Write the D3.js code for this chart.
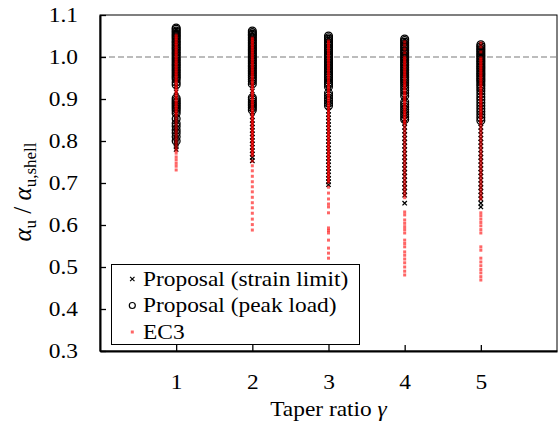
<!DOCTYPE html>
<html>
<head>
<meta charset="utf-8">
<script src="https://cdn.jsdelivr.net/npm/d3@7/dist/d3.min.js"></script>
<style>
    body { margin: 0; background: #fff; }
    svg text, svg tspan { font-family: 'Liberation Serif', 'Times New Roman', Times !important; }
</style>
</head>
<body>
<div id="chart"></div>
<script>
var taperRatios = [1, 2, 3, 4, 5];
var xTicks = [1, 2, 3, 4, 5];
var yTicks = [0.3, 0.4, 0.5, 0.6, 0.7, 0.8, 0.9, 1.0, 1.1];
var legendLabels = ["Proposal (strain limit)", "Proposal (peak load)", "EC3"];

// one list per taper ratio
var strainLimit = [
    [1.064, 1.051, 1.038, 1.022, 1.008, 0.993, 0.978, 0.962, 0.948, 0.931, 0.917, 0.903, 0.889, 0.874, 0.865, 0.858, 0.851, 0.845, 0.839, 0.833, 0.827, 0.821, 0.815, 0.809, 0.803, 0.797, 0.792, 0.786, 0.780],
    [1.058, 1.045, 1.031, 1.017, 1.003, 0.989, 0.975, 0.961, 0.947, 0.933, 0.919, 0.905, 0.892, 0.880, 0.868, 0.858, 0.849, 0.841, 0.833, 0.825, 0.817, 0.809, 0.801, 0.793, 0.785, 0.777, 0.769, 0.761, 0.753],
    [1.046, 1.032, 1.018, 1.004, 0.990, 0.976, 0.962, 0.948, 0.934, 0.920, 0.906, 0.892, 0.880, 0.871, 0.863, 0.855, 0.847, 0.839, 0.831, 0.823, 0.815, 0.807, 0.799, 0.791, 0.783, 0.775, 0.767, 0.759, 0.751, 0.743, 0.735, 0.727, 0.719, 0.711, 0.703, 0.696],
    [1.040, 1.026, 1.012, 0.998, 0.984, 0.970, 0.956, 0.942, 0.928, 0.914, 0.900, 0.886, 0.872, 0.860, 0.851, 0.842, 0.833, 0.824, 0.815, 0.806, 0.797, 0.788, 0.779, 0.770, 0.761, 0.752, 0.743, 0.734, 0.725, 0.716, 0.707, 0.698, 0.689, 0.680, 0.671, 0.652],
    [1.028, 1.014, 1.000, 0.986, 0.972, 0.958, 0.944, 0.930, 0.916, 0.902, 0.888, 0.874, 0.861, 0.851, 0.842, 0.833, 0.824, 0.815, 0.806, 0.797, 0.788, 0.779, 0.770, 0.761, 0.752, 0.743, 0.734, 0.725, 0.716, 0.707, 0.698, 0.689, 0.680, 0.671, 0.662, 0.652, 0.643]
];

var peakLoad = [
    [1.069, 1.066, 1.062, 1.059, 1.055, 1.052, 1.048, 1.045, 1.041, 1.037, 1.034, 1.030, 1.026, 1.022, 1.019, 1.015, 1.011, 1.007, 1.003, 0.999, 0.995, 0.991, 0.987, 0.983, 0.979, 0.975, 0.971, 0.967, 0.963, 0.959, 0.955, 0.951, 0.947, 0.940, 0.934, 0.902, 0.897, 0.893, 0.889, 0.885, 0.881, 0.877, 0.872, 0.866, 0.853, 0.842, 0.835, 0.826, 0.819, 0.810, 0.800],
    [1.062, 1.058, 1.054, 1.051, 1.047, 1.043, 1.039, 1.035, 1.031, 1.027, 1.023, 1.019, 1.016, 1.012, 1.008, 1.004, 1.000, 0.996, 0.992, 0.988, 0.984, 0.980, 0.976, 0.972, 0.968, 0.964, 0.960, 0.956, 0.952, 0.947, 0.942, 0.936, 0.903, 0.898, 0.893, 0.888, 0.884, 0.879, 0.874],
    [1.050, 1.046, 1.042, 1.038, 1.034, 1.030, 1.026, 1.022, 1.018, 1.014, 1.010, 1.006, 1.002, 0.998, 0.994, 0.990, 0.986, 0.982, 0.978, 0.974, 0.970, 0.966, 0.962, 0.958, 0.954, 0.950, 0.945, 0.940, 0.935, 0.929, 0.914, 0.908, 0.902, 0.896, 0.890, 0.884],
    [1.043, 1.039, 1.035, 1.031, 1.027, 1.023, 1.019, 1.015, 1.011, 1.007, 1.003, 0.999, 0.995, 0.991, 0.987, 0.983, 0.979, 0.975, 0.971, 0.967, 0.963, 0.959, 0.955, 0.951, 0.947, 0.943, 0.938, 0.933, 0.927, 0.921, 0.914, 0.907, 0.893, 0.887, 0.881, 0.875, 0.869, 0.863, 0.857, 0.851],
    [1.029, 1.025, 1.021, 1.017, 1.013, 1.009, 1.005, 1.001, 0.997, 0.993, 0.989, 0.985, 0.981, 0.977, 0.973, 0.969, 0.965, 0.961, 0.957, 0.953, 0.949, 0.945, 0.941, 0.936, 0.931, 0.925, 0.919, 0.912, 0.905, 0.898, 0.891, 0.884, 0.877, 0.870, 0.863, 0.856, 0.849]
];

var ec3 = [
    [1.052, 1.048, 1.044, 1.040, 1.036, 1.032, 1.028, 1.024, 1.020, 1.016, 1.012, 1.008, 1.004, 1.000, 0.996, 0.992, 0.988, 0.984, 0.980, 0.976, 0.972, 0.968, 0.964, 0.960, 0.956, 0.952, 0.948, 0.944, 0.940, 0.936, 0.932, 0.928, 0.924, 0.920, 0.916, 0.912, 0.908, 0.904, 0.900, 0.896, 0.892, 0.888, 0.884, 0.880, 0.876, 0.872, 0.868, 0.864, 0.860,
     0.853, 0.846, 0.839, 0.832, 0.825, 0.818, 0.811, 0.804, 0.797, 0.790, 0.783, 0.777, 0.771, 0.762, 0.755, 0.747, 0.740, 0.731],
    [1.045, 1.041, 1.037, 1.033, 1.029, 1.025, 1.021, 1.017, 1.013, 1.009, 1.005, 1.001, 0.997, 0.993, 0.989, 0.985, 0.981, 0.977, 0.973, 0.969, 0.965, 0.961, 0.957, 0.953, 0.949, 0.945, 0.941, 0.937, 0.933, 0.929, 0.925, 0.921, 0.917, 0.913, 0.909, 0.905, 0.901, 0.897, 0.893, 0.889, 0.885, 0.881, 0.877, 0.873, 0.869, 0.865, 0.861, 0.857, 0.853, 0.849, 0.845, 0.841, 0.837, 0.833, 0.829, 0.825, 0.821, 0.817, 0.813, 0.809, 0.805, 0.801, 0.797, 0.793, 0.789, 0.785, 0.781, 0.777, 0.773, 0.769, 0.765,
     0.752, 0.741, 0.729, 0.716, 0.703, 0.691, 0.679, 0.666, 0.653, 0.641, 0.628, 0.614, 0.601, 0.588],
    [1.038, 1.034, 1.030, 1.026, 1.022, 1.018, 1.014, 1.010, 1.006, 1.002, 0.998, 0.994, 0.990, 0.986, 0.982, 0.978, 0.974, 0.970, 0.966, 0.962, 0.958, 0.954, 0.950, 0.946, 0.942, 0.938, 0.934, 0.930, 0.926, 0.922, 0.918, 0.914, 0.910, 0.906, 0.902, 0.898, 0.894, 0.890, 0.886, 0.882, 0.878, 0.874, 0.870, 0.866, 0.862, 0.858, 0.854, 0.850, 0.846, 0.842, 0.838, 0.834, 0.830, 0.826, 0.822, 0.818, 0.814, 0.810, 0.806, 0.802, 0.798, 0.794, 0.790, 0.786, 0.782, 0.778, 0.774, 0.770, 0.766, 0.762, 0.758, 0.754, 0.750, 0.746, 0.742, 0.738, 0.734, 0.730, 0.726, 0.722, 0.718, 0.714, 0.710, 0.706, 0.702,
     0.690, 0.676, 0.662, 0.650, 0.643, 0.629, 0.593, 0.587, 0.581, 0.564, 0.545, 0.533, 0.521],
    [1.036, 1.028, 1.019, 1.010, 1.000, 0.996, 0.992, 0.988, 0.984, 0.980, 0.976, 0.972, 0.968, 0.964, 0.960, 0.956, 0.952, 0.948, 0.944, 0.940, 0.936, 0.932, 0.928, 0.924, 0.920, 0.916, 0.912, 0.908, 0.904, 0.900, 0.896, 0.892, 0.888, 0.884, 0.880, 0.876, 0.872, 0.868, 0.864, 0.860, 0.856, 0.852, 0.848, 0.844, 0.840,
     0.833, 0.826, 0.819, 0.812, 0.805, 0.798, 0.791, 0.784, 0.777, 0.770, 0.763, 0.756, 0.749, 0.742, 0.735, 0.728, 0.721, 0.714, 0.707, 0.700, 0.693, 0.686, 0.679, 0.672, 0.665,
     0.631, 0.624, 0.612, 0.604, 0.596, 0.589, 0.581, 0.564, 0.556, 0.548, 0.536, 0.528, 0.519, 0.510, 0.500, 0.490, 0.481],
    [1.033, 1.024, 1.012, 0.998, 0.994, 0.990, 0.986, 0.982, 0.978, 0.974, 0.970, 0.966, 0.962, 0.958, 0.954, 0.950, 0.946, 0.942, 0.938, 0.934, 0.930, 0.926, 0.922, 0.918, 0.914, 0.910, 0.906, 0.902, 0.898, 0.894, 0.890, 0.886, 0.882, 0.878, 0.874, 0.870, 0.866, 0.862, 0.858, 0.854, 0.850, 0.846, 0.842,
     0.835, 0.828, 0.821, 0.814, 0.807, 0.800, 0.793, 0.786, 0.779, 0.772, 0.765, 0.758, 0.751, 0.744, 0.737, 0.730, 0.723, 0.716, 0.709, 0.702, 0.695, 0.688, 0.681, 0.674, 0.667, 0.662,
     0.629, 0.622, 0.614, 0.606, 0.598, 0.589, 0.581, 0.548, 0.540, 0.521, 0.512, 0.503, 0.494, 0.486, 0.477, 0.469]
];

var margin = {top: 15, right: 3, bottom: 76, left: 100},
    width = 560 - margin.left - margin.right,
    height = 427 - margin.top - margin.bottom;

// the original figure is a little wider than its fonts
var stretch = 1.17;

function serif(sel, size) {
    return sel.attr("font-family", "Liberation Serif")
        .style("font-family", "'Liberation Serif', 'Times New Roman', Times")
        .style("font-size", size + "px")
        .attr("fill", "#000");
}

function toPoints(series) {
    var pts = [];
    series.forEach(function (list, i) {
        list.forEach(function (v) {
            pts.push({gamma: taperRatios[i], value: v});
        });
    });
    return pts;
}

function drawChart() {
    var svg = d3.select("#chart").append("svg")
        .attr("width", 560)
        .attr("height", 427)
        .style("font-family", "'Liberation Serif', 'Times New Roman', Times");

    var g = svg.append("g")
        .attr("transform", "translate(" + margin.left + "," + margin.top + ")");

    var x = d3.scaleLinear().domain([0, 6]).range([0, width]);
    var y = d3.scaleLinear().domain([0.3, 1.1]).range([height, 0]);

    // reference line at 1.0
    g.append("line")
        .attr("x1", 0).attr("x2", width)
        .attr("y1", y(1.0)).attr("y2", y(1.0))
        .attr("stroke", "#a6a6a6")
        .attr("stroke-width", 1.5)
        .attr("stroke-dasharray", "6,3");

    // frame
    g.append("rect")
        .attr("width", width).attr("height", height)
        .attr("fill", "none")
        .attr("stroke", "#000")
        .attr("stroke-width", 1);

    var xAxis = g.append("g")
        .attr("transform", "translate(0," + height + ")")
        .call(d3.axisBottom(x).tickValues(xTicks).tickFormat(d3.format("d")).tickSizeInner(-6).tickSizeOuter(0).tickPadding(24));
    var yAxis = g.append("g")
        .call(d3.axisLeft(y).tickValues(yTicks).tickFormat(d3.format(".1f")).tickSizeInner(-6).tickSizeOuter(0).tickPadding(22));

    [xAxis, yAxis].forEach(function (ax) {
        ax.attr("font-family", null);
        ax.select(".domain").attr("stroke", "#000").attr("stroke-width", 2);
        ax.selectAll(".tick line").attr("stroke", "#000").attr("stroke-width", 1.3);
        serif(ax.selectAll(".tick text"), 20)
            .attr("transform", "scale(" + stretch + ",1)");
    });
    yAxis.selectAll(".tick text").attr("x", -22 / stretch);

    var xPath = "M-2.2,-2.2L2.2,2.2M-2.2,2.2L2.2,-2.2";

    g.append("g").selectAll("path")
        .data(toPoints(strainLimit))
        .enter().append("path")
        .attr("d", xPath)
        .attr("transform", function (d) { return "translate(" + x(d.gamma) + "," + y(d.value) + ")"; })
        .attr("stroke", "#000")
        .attr("stroke-width", 1.3)
        .attr("fill", "none");

    g.append("g").selectAll("circle")
        .data(toPoints(peakLoad))
        .enter().append("circle")
        .attr("cx", function (d) { return x(d.gamma); })
        .attr("cy", function (d) { return y(d.value); })
        .attr("r", 3.9)
        .attr("fill", "none")
        .attr("stroke", "#000")
        .attr("stroke-width", 1.3);

    g.append("g").selectAll("rect")
        .data(toPoints(ec3))
        .enter().append("rect")
        .attr("x", function (d) { return x(d.gamma) - 1.5; })
        .attr("y", function (d) { return y(d.value) - 1.5; })
        .attr("width", 3)
        .attr("height", 3)
        .attr("fill", "#ff0000")
        .attr("fill-opacity", 0.6);

    // legend
    var legend = svg.append("g").attr("transform", "translate(111.5,264.5)");
    legend.append("rect")
        .attr("width", 248).attr("height", 80)
        .attr("fill", "#fff")
        .attr("stroke", "#000")
        .attr("stroke-width", 1);

    legendLabels.forEach(function (label, i) {
        var cy = 14.5 + i * 26.5;
        if (i === 0) {
            legend.append("path").attr("d", xPath)
                .attr("transform", "translate(20.8," + cy + ")")
                .attr("stroke", "#000").attr("stroke-width", 1.2);
        } else if (i === 1) {
            legend.append("circle").attr("cx", 20.8).attr("cy", cy).attr("r", 3)
                .attr("fill", "none").attr("stroke", "#000").attr("stroke-width", 1.2);
        } else {
            legend.append("rect").attr("x", 19.3).attr("y", cy - 1.5)
                .attr("width", 3).attr("height", 3)
                .attr("fill", "#ff0000").attr("fill-opacity", 0.6);
        }
        serif(legend.append("text"), 20)
            .attr("transform", "translate(31.5," + (cy + 6.5) + ") scale(" + stretch + ",1)")
            .text(label);
    });

    // axis titles
    var xt = serif(svg.append("text"), 20)
        .attr("transform", "translate(" + (margin.left + width / 2) + ",416) scale(" + stretch + ",1)")
        .attr("text-anchor", "middle");
    xt.append("tspan").text("Taper ratio ");
    xt.append("tspan").style("font-style", "italic").text("γ");

    var yt = serif(svg.append("text"), 25)
        .attr("transform", "translate(31,192) rotate(-90)")
        .attr("text-anchor", "middle");
    yt.append("tspan").style("font-style", "italic").text("α");
    yt.append("tspan").attr("dy", 5).style("font-size", "17px").text("u");
    yt.append("tspan").attr("dy", -5).text(" / ");
    yt.append("tspan").style("font-style", "italic").text("α");
    yt.append("tspan").attr("dy", 5).style("font-size", "17px").text("u,shell");
}

drawChart();
</script>
</body>
</html>
